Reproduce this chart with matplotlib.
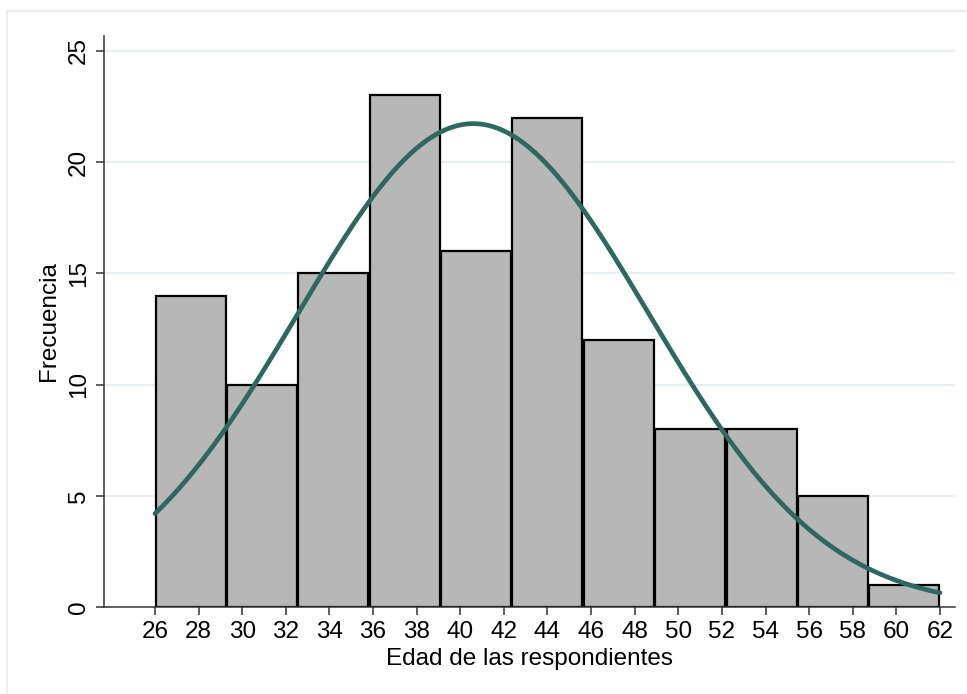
import numpy as np
import matplotlib
matplotlib.use("Agg")
import matplotlib.pyplot as plt
from matplotlib.patches import Rectangle

plt.rcParams['font.family'] = ['Liberation Sans', 'DejaVu Sans']

# histogram of ages: 11 bins from 26 to 62
age_min = 26
age_max = 62
counts = [14, 10, 15, 23, 16, 22, 12, 8, 8, 5, 1]
x_ticks = list(range(26, 63, 2))
y_ticks = [0, 5, 10, 15, 20, 25]

# normal fit over the same sample
mean_age = 40.6
sd_age = 8.05

n_bins = len(counts)
edges = np.linspace(age_min, age_max, n_bins + 1)
width = edges[1] - edges[0]
n_obs = sum(counts)

fig = plt.figure(figsize=(9.67, 6.94), dpi=100)
ax = fig.add_axes([0.1075, 0.1254, 0.8801, 0.8226])

# faint outer frame of the screenshot
fig.patches.append(Rectangle((7 / 967, -0.1), 1.2, 1 - 11 / 694 + 0.1,
                             transform=fig.transFigure, fill=False,
                             edgecolor='#e6eaec', linewidth=1.2))

ax.set_axisbelow(True)
ax.yaxis.grid(True, color='#e6edf1', linewidth=1.6)

gap = 0.06
ax.bar(edges[:-1] + gap / 2, counts, width=width - gap, align='edge',
       color='#b7b7b7', edgecolor='black', linewidth=1.6, zorder=2)

xs = np.linspace(age_min, age_max, 300)
ys = n_obs * width / (sd_age * np.sqrt(2 * np.pi)) * np.exp(-0.5 * ((xs - mean_age) / sd_age) ** 2)
ax.plot(xs, ys, color='#2e6961', linewidth=3.4, solid_capstyle='round', zorder=3)

ax.set_xlim(23.66, 62.69)
ax.set_ylim(0, 25.67)
ax.set_xticks(x_ticks)
ax.set_yticks(y_ticks)
ax.tick_params(axis='both', labelsize=17.5, length=6, width=1.1, color='#333333')
ax.tick_params(axis='x', pad=4)
ax.tick_params(axis='y', pad=4)
for lab in ax.get_yticklabels():
    lab.set_rotation(90)
    lab.set_va('center')

for s in ['top', 'right']:
    ax.spines[s].set_visible(False)
for s in ['left', 'bottom']:
    ax.spines[s].set_linewidth(1.1)
    ax.spines[s].set_color('#333333')

ax.set_xlabel('Edad de las respondientes', fontsize=17.5, labelpad=4)
ax.set_ylabel('Frecuencia', fontsize=17.5, labelpad=6)

fig.savefig('out.png', dpi=100)
